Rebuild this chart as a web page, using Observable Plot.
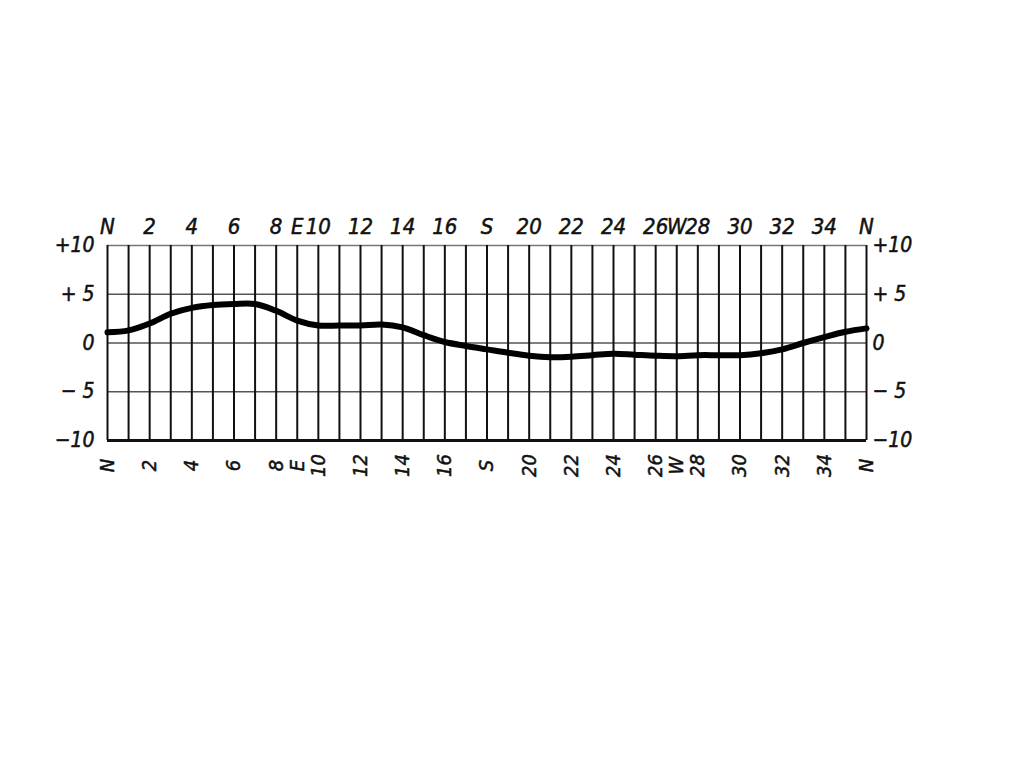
<!DOCTYPE html>
<html>
<head>
<meta charset="utf-8">
<script src="https://cdn.jsdelivr.net/npm/d3@7"></script>
<script src="https://cdn.jsdelivr.net/npm/@observablehq/plot@0.6"></script>
<style>
  html, body { margin: 0; padding: 0; background: #ffffff; }
  #chart svg { display: block; }
</style>
</head>
<body>
<div id="chart"></div>
<script>
// Compass positions (grid columns)
const positions = [0,1,2,3,4,5,6,7,8,9,10,11,12,13,14,15,16,17,18,19,20,21,22,23,24,25,26,27,28,29,30,31,32,33,34,35,36];
// Deviation values
const deviation = [1.1,1.3,2.0,3.0,3.6,3.9,4.0,4.0,3.3,2.3,1.8,1.8,1.8,1.9,1.6,0.8,0.1,-0.3,-0.65,-1.0,-1.3,-1.45,-1.4,-1.25,-1.1,-1.2,-1.3,-1.35,-1.25,-1.25,-1.25,-1.05,-0.65,0.0,0.6,1.15,1.5];
// Axis tick positions and labels
const xTicks = [0,2,4,6,8,9,10,12,14,16,18,20,22,24,26,27,28,30,32,34,36];
const xLabels = ["N","2","4","6","8","E","10","12","14","16","S","20","22","24","26","W","28","30","32","34","N"];
const yTicks = [10,5,0,-5,-10];
const yLabels = ["+10","+ 5","0","− 5","−10"];
const hLines = [5,0,-5];

const data = positions.map((p, i) => ({x: p, y: deviation[i]}));

const font = "'DejaVu Sans Condensed', 'Liberation Sans Narrow', 'DejaVu Sans', sans-serif";
const ink = {fill: "#111", stroke: "#111", strokeWidth: 0.5};

const chart = Plot.plot({
  width: 1024,
  height: 767,
  marginLeft: 107,
  marginRight: 158,
  marginTop: 245,
  marginBottom: 327,
  x: {domain: [0, 36], axis: null},
  y: {domain: [-10, 10], axis: null},
  style: {fontFamily: font, fontStyle: "italic", color: "#111", background: "#fff"},
  marks: [
    Plot.ruleY(hLines, {stroke: "#555", strokeWidth: 1.6}),
    Plot.ruleY([10], {stroke: "#777", strokeWidth: 1.4}),
    Plot.ruleX(positions, {y1: -10, y2: 10, stroke: "#111", strokeWidth: 2}),
    Plot.ruleY([-10], {stroke: "#111", strokeWidth: 2.8}),
    Plot.line(data, {x: "x", y: "y", stroke: "#000", strokeWidth: 6, curve: "catmull-rom", strokeLinecap: "round"}),
    Plot.text(xTicks, {x: d => d, text: (d, i) => xLabels[i], frameAnchor: "top", lineAnchor: "middle", dy: -19, fontSize: 22, ...ink}),
    Plot.text(xTicks, {x: d => d, text: (d, i) => xLabels[i], frameAnchor: "bottom", lineAnchor: "middle", textAnchor: "middle", dy: 25, rotate: -90, fontSize: 20, ...ink}),
    Plot.text(yTicks, {y: d => d, text: (d, i) => yLabels[i], frameAnchor: "left", lineAnchor: "middle", dx: -13, textAnchor: "end", fontSize: 21, ...ink}),
    Plot.text(yTicks, {y: d => d, text: (d, i) => yLabels[i], frameAnchor: "right", lineAnchor: "middle", dx: 6, textAnchor: "start", fontSize: 21, ...ink})
  ]
});
document.getElementById("chart").appendChild(chart);
</script>
</body>
</html>
